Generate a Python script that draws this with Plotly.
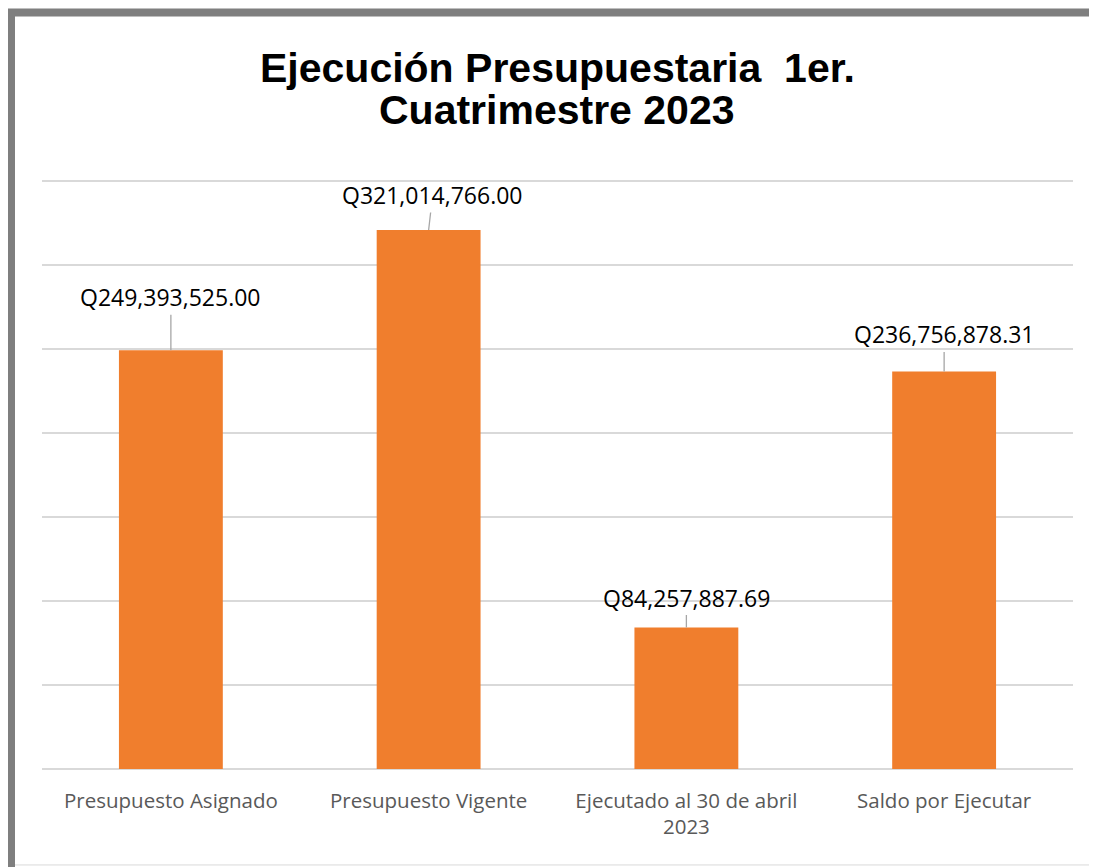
import plotly.graph_objects as go

categories = ["Presupuesto Asignado", "Presupuesto Vigente", "Ejecutado al 30 de abril<br>2023", "Saldo por Ejecutar"]
values = [249393525.00, 321014766.00, 84257887.69, 236756878.31]
labels = ["Q249,393,525.00", "Q321,014,766.00", "Q84,257,887.69", "Q236,756,878.31"]
label_offsets = [-53, -35, -30, -37]
label_dx = [0, 4, 0, 0]
tick_vals = [0, 50e6, 100e6, 150e6, 200e6, 250e6, 300e6, 350e6]
title_lines = ["Ejecución Presupuestaria  1er.", "Cuatrimestre 2023"]

OFF = 8  # page body margin
W, H = 1097 - OFF, 867 - OFF
Y_MAX = 352e6
base_screen = 769
top350_screen = 181
px_per_val = (base_screen - top350_screen) / 350e6
ph = Y_MAX * px_per_val
B = H - (base_screen - OFF)
T = H - B - ph
L = 42 - OFF
R = W - (1073 - OFF)
pw = W - L - R


def px_x(sx):
    return (sx - OFF - L) / pw


def px_y(sy):
    return (H - B - (sy - OFF)) / ph


fig = go.Figure()
fig.add_trace(go.Bar(
    x=categories, y=values,
    marker=dict(color="#F07E2D", line=dict(width=0)),
    width=0.403,
    hoverinfo="skip",
))

for c, v, t, off, dx in zip(categories, values, labels, label_offsets, label_dx):
    fig.add_annotation(
        x=c, y=v, text=t, showarrow=True, arrowhead=0, arrowwidth=1.3,
        arrowcolor="#A6A6A6", ax=dx, ay=off, standoff=0,
        font=dict(family="Open Sans", size=23, color="#000000"),
    )

for txt, sy in zip(title_lines, [68, 110]):
    fig.add_annotation(
        xref="paper", yref="paper", x=px_x(557), y=px_y(sy),
        xanchor="center", yanchor="middle", showarrow=False,
        borderpad=0,
        text="<b>" + txt + "</b>",
        font=dict(family="Liberation Sans", size=41, color="#000000"),
    )

# gray frame
fig.add_shape(type="rect", xref="paper", yref="paper",
              x0=px_x(11), x1=px_x(1300), y0=px_y(12), y1=px_y(1100),
              line=dict(color="#7F7F7F", width=8), fillcolor="rgba(0,0,0,0)", layer="below")
fig.add_shape(type="line", xref="paper", yref="paper",
              x0=px_x(15), x1=px_x(1300), y0=px_y(865), y1=px_y(865),
              line=dict(color="#D9D9D9", width=1), layer="below")

fig.update_layout(
    width=W, height=H,
    margin=dict(l=L, r=R, t=T, b=B, pad=0),
    paper_bgcolor="white", plot_bgcolor="white",
    showlegend=False,
    bargap=0.597,
    xaxis=dict(
        showgrid=False, showline=False, ticks="",
        ticklabelstandoff=17,
        tickfont=dict(family="Open Sans", size=20.5, color="#595959"),
    ),
    yaxis=dict(
        range=[0, Y_MAX], tickvals=tick_vals, showticklabels=False,
        showgrid=True, gridcolor="#D9D9D9", gridwidth=1.5,
        zeroline=True, zerolinecolor="#D9D9D9", zerolinewidth=1.5,
        showline=False, ticks="",
    ),
)

fig.write_html("out.html")
